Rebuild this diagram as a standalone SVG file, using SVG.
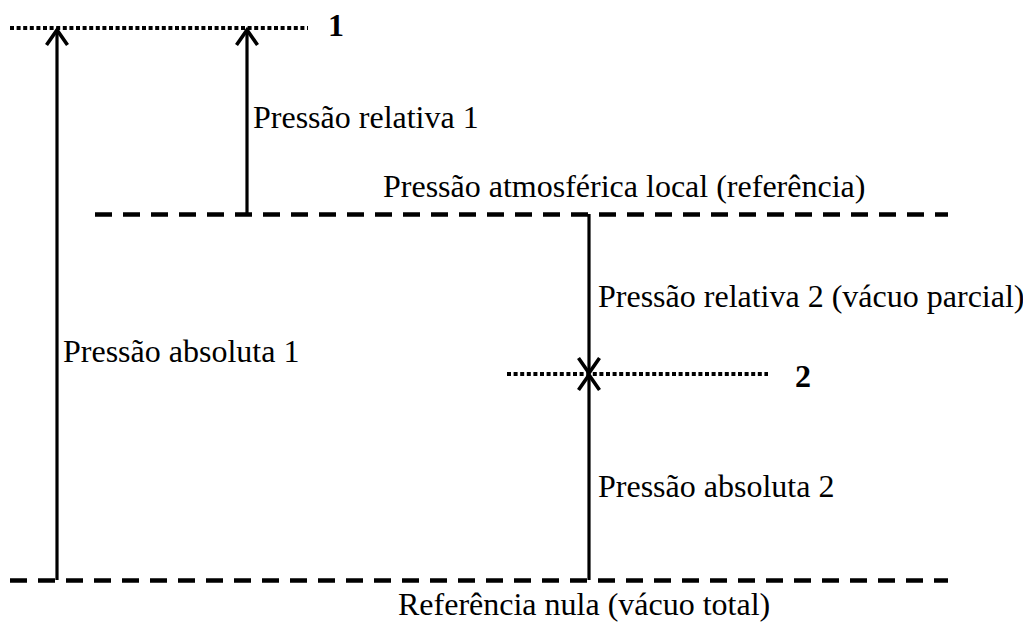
<svg xmlns="http://www.w3.org/2000/svg" width="1023" height="624" viewBox="0 0 1023 624">
<style>
.lbl{font-family:"Liberation Serif","Times New Roman",serif;font-size:32px;fill:#000}
.num{font-family:"Liberation Serif","Times New Roman",serif;font-size:32px;font-weight:bold;fill:#000}
.dash{stroke:#000;stroke-width:4.5;stroke-dasharray:17 11;fill:none}
.dot{stroke:#000;stroke-width:4;stroke-dasharray:4 2.6;fill:none}
.arr{stroke:#000;stroke-width:3.2;fill:none}
.head{stroke:#000;stroke-width:3.6;fill:none;stroke-linecap:butt;stroke-linejoin:miter}
</style>
<rect width="1023" height="624" fill="#fff"/>
<g id="level-1">
<line class="dot" x1="10" y1="28" x2="308" y2="28"/>
<text class="num" x="328" y="36">1</text>
</g>
<g id="level-atm">
<line class="dash" x1="95" y1="214.5" x2="948" y2="214.5"/>
<text class="lbl" x="383" y="197">Pressão atmosférica local (referência)</text>
</g>
<g id="level-2">
<line class="dot" x1="507" y1="374" x2="768" y2="374"/>
<text class="num" x="795" y="387">2</text>
</g>
<g id="level-zero">
<line class="dash" x1="10" y1="580.5" x2="948" y2="580.5"/>
<text class="lbl" x="398" y="615">Referência nula (vácuo total)</text>
</g>
<g id="connectors">
<g id="abs1">
<line class="arr" x1="57" y1="580" x2="57" y2="30"/>
<polyline class="head" points="46.5,45 57,30 67.5,45"/>
<text class="lbl" x="63" y="362">Pressão absoluta 1</text>
</g>
<g id="rel1">
<line class="arr" x1="247" y1="214" x2="247" y2="30"/>
<polyline class="head" points="236.5,45 247,30 257.5,45"/>
<text class="lbl" x="253" y="128">Pressão relativa 1</text>
</g>
<g id="rel2">
<line class="arr" x1="589" y1="214" x2="589" y2="373"/>
<polyline class="head" points="578.5,358 589,373 599.5,358"/>
<text class="lbl" x="598" y="307">Pressão relativa 2 (vácuo parcial)</text>
</g>
<g id="abs2">
<line class="arr" x1="589" y1="580" x2="589" y2="375"/>
<polyline class="head" points="578.5,390 589,375 599.5,390"/>
<text class="lbl" x="598" y="497">Pressão absoluta 2</text>
</g>
</g>
</svg>
